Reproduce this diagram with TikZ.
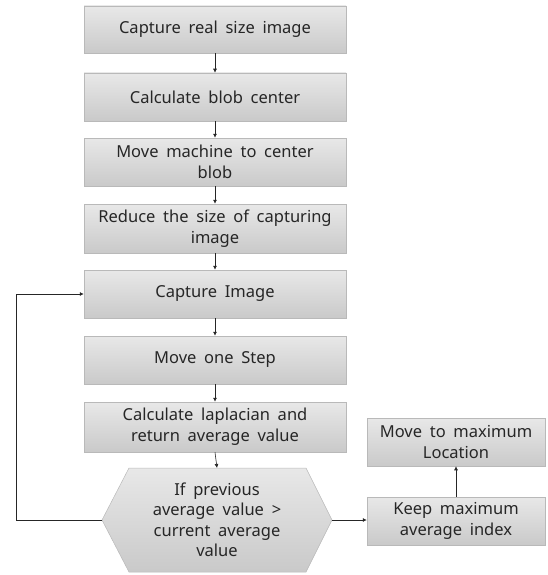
\documentclass[tikz,border=0pt]{standalone}
\usepackage{fontspec}
\setmainfont[WordSpace=1.8]{Noto Sans}
\usetikzlibrary{arrows.meta}
\tikzset{
  x=1pt, y=-1pt,
  procbox/.style={rectangle, draw=gray!55, line width=0.5pt,
    top color=gray!18, bottom color=gray!42,
    text=black!85, align=center, inner sep=2pt,
    font=\fontsize{16.5}{21}\selectfont},
  hexfill/.style={draw=gray!55, line width=0.5pt, top color=gray!18, bottom color=gray!42},
  hextext/.style={text=black!85, align=center, inner sep=0pt,
    font=\fontsize{16.5}{20.5}\selectfont},
  flow/.style={draw=black!85, line width=0.6pt, -{Latex[length=4pt,width=4pt]}},
}
\begin{document}
\begin{tikzpicture}
\useasboundingbox (0,0) rectangle (547,575);

% main column of process steps
\node[procbox, minimum width=262pt, minimum height=47pt] (s1) at (215,29.5) {Capture real size image};
\node[procbox, minimum width=262pt, minimum height=48pt] (s2) at (215,97) {Calculate blob center};
\node[procbox, minimum width=262pt, minimum height=48pt] (s3) at (215,162) {Move machine to center\\blob};
\node[procbox, minimum width=262pt, minimum height=49pt] (s4) at (215,228.5) {Reduce the size of capturing\\image};
\node[procbox, minimum width=262pt, minimum height=48pt] (s5) at (215,294) {Capture Image};
\node[procbox, minimum width=262pt, minimum height=48pt] (s6) at (215,360) {Move one Step};
\node[procbox, minimum width=262pt, minimum height=50pt] (s7) at (215,427) {Calculate laplacian and\\return average value};

% decision hexagon
\coordinate (hw) at (102,520);
\coordinate (he) at (332,520);
\path[hexfill] (hw) -- (129,468) -- (306,468) -- (he) -- (306,572) -- (129,572) -- cycle;
\node[hextext] (dec) at (217,520) {If previous\\average value >\\current average\\value};
\coordinate (dectop) at (217,468);

% right-hand branch
\node[procbox, minimum width=178pt, minimum height=48pt] (keep) at (456,521) {Keep maximum\\average index};
\node[procbox, minimum width=178pt, minimum height=48pt] (move) at (456,442) {Move to maximum\\Location};

% connectors
\draw[flow] (s1) -- (s2);
\draw[flow] (s2) -- (s3);
\draw[flow] (s3) -- (s4);
\draw[flow] (s4) -- (s5);
\draw[flow] (s5) -- (s6);
\draw[flow] (s6) -- (s7);
\draw[flow] (s7.south) -- (dectop);
\draw[flow] (he) -- (keep.west |- he);
\draw[flow] (keep) -- (move);
\draw[flow] (hw) -- (16,520) |- (s5.west);
\end{tikzpicture}
\end{document}
